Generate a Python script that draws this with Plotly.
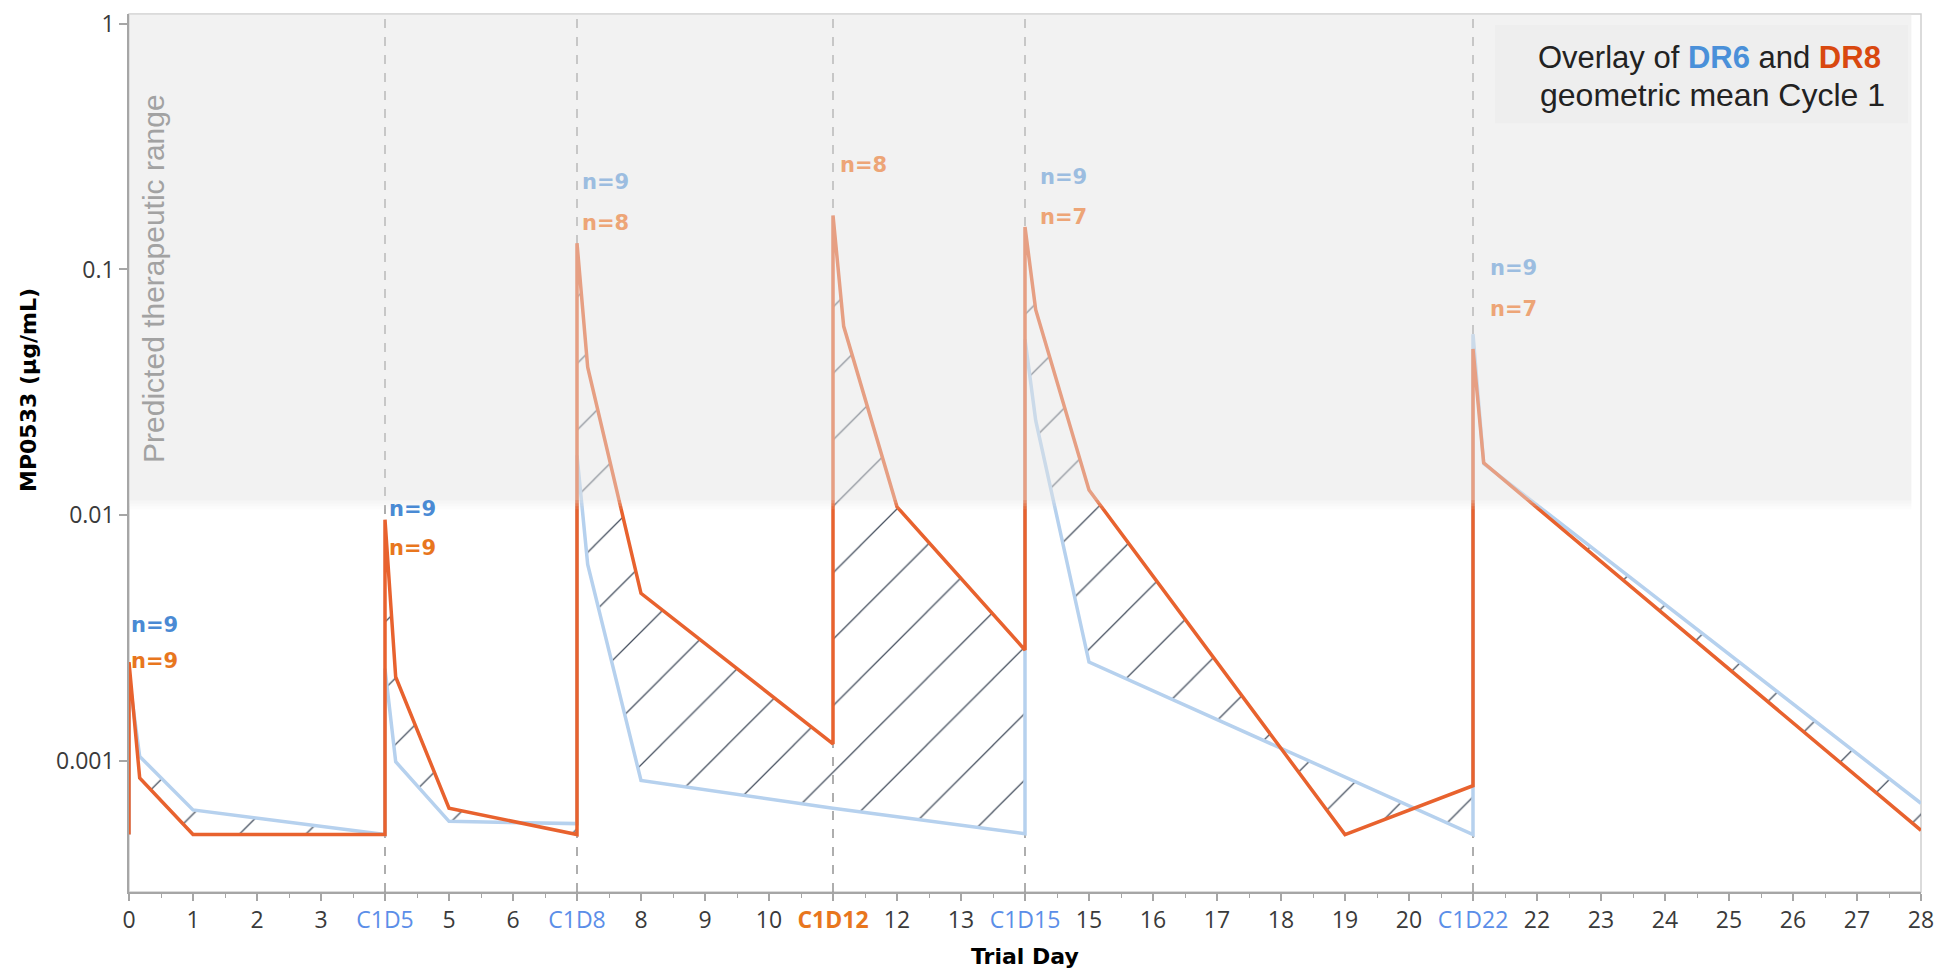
import math
import plotly.graph_objects as go

# ---------------- data ----------------
DR6_DAY = [0, 0, 0.167, 1, 4, 4, 4.167, 5, 7, 7, 7.167, 8, 11, 14, 14, 14.167, 15, 21, 21, 21.167, 28]
DR6_CONC = [0.0005, 0.0022, 0.00104, 0.00063, 0.0005, 0.00237, 0.00099, 0.000566, 0.000554,
            0.0175, 0.0063, 0.00083, 0.00064, 0.000504, 0.052, 0.0243, 0.00252, 0.0005,
            0.0545, 0.0162, 0.00067]

DR8_DAY = [0, 0, 0.167, 1, 4, 4, 4.167, 5, 7, 7, 7.167, 8, 11, 11, 11.167, 12, 14, 14, 14.167,
           15, 19, 21, 21, 21.167, 28]
DR8_CONC = [0.0005, 0.00252, 0.00085, 0.0005, 0.0005, 0.00957, 0.00219, 0.00064, 0.0005,
            0.128, 0.040, 0.0048, 0.00117, 0.166, 0.0587, 0.0108, 0.00282, 0.149, 0.0686,
            0.01265, 0.0005, 0.00079, 0.0475, 0.0163, 0.00052]

DOSE_DAYS = [4, 7, 11, 14, 21]
THERAPEUTIC_MIN = 0.011

N_LABEL_DAY = [0, 4, 7, 11, 14, 21]
DR6_N = ["n=9", "n=9", "n=9", None, "n=9", "n=9"]
DR8_N = ["n=9", "n=9", "n=8", "n=8", "n=7", "n=7"]

X_TICK_VALS = list(range(0, 29))
X_TICK_LABELS = ["0", "1", "2", "3", "C1D5", "5", "6", "C1D8", "8", "9", "10", "C1D12", "12",
                 "13", "C1D15", "15", "16", "17", "18", "19", "20", "C1D22", "22", "23", "24",
                 "25", "26", "27", "28"]
Y_TICK_VALS = [0.001, 0.01, 0.1, 1]
Y_TICK_LABELS = ["0.001", "0.01", "0.1", "1"]

# ---------------- styles / layout constants ----------------
ORANGE = "#e8622e"
BLUE_LINE = "#b6d1ee"
BLUE_TXT = "#4a8ad4"
ORANGE_TXT = "#e8761e"
BLUE_TXT_FADED = "#9cbde0"
ORANGE_TXT_FADED = "#eda577"
TICK_BLUE = "#5b8ee8"
TICK_ORANGE = "#e8761e"
AXIS_GREY = "#a6a6a6"

Y_RANGE = [-3.535, 0.0404]
X_RANGE = [0, 28]

# label placement (left edge in days, centre in log10 units)
LBL_DX = -0.06
LBL_DY = 0.015
DR6_LABEL_POS = [(0.067, -2.463), (4.086, -1.992), (7.11, -0.659), None, (14.26, -0.638), (21.29, -1.009)]
DR8_LABEL_POS = [(0.067, -2.611), (4.086, -2.150), (7.11, -0.827), (11.136, -0.591), (14.26, -0.800), (21.29, -1.177)]

fig = go.Figure()

fig.add_trace(go.Scatter(
    x=DR6_DAY, y=DR6_CONC, mode="lines", name="DR6",
    line=dict(color=BLUE_LINE, width=3.5), showlegend=False, hoverinfo="skip"))

fig.add_trace(go.Scatter(
    x=DR8_DAY, y=DR8_CONC, mode="lines", name="DR8",
    line=dict(color=ORANGE, width=3.5), showlegend=False, hoverinfo="skip",
    fill="tonexty", fillcolor="rgba(0,0,0,0)",
    fillpattern=dict(shape="/", size=47, solidity=0.027, fgcolor="#46505f",
                     bgcolor="rgba(0,0,0,0)", fgopacity=1)))

shapes = []
# frame
shapes.append(dict(type="rect", xref="paper", yref="paper", x0=0, x1=1, y0=0, y1=1,
                   line=dict(color="#cfcfcf", width=1.5), fillcolor="rgba(0,0,0,0)", layer="below"))
# dose day dashed lines
for d in DOSE_DAYS:
    shapes.append(dict(type="line", xref="x", yref="paper", x0=d, x1=d, y0=0, y1=1,
                       line=dict(color="#949494", width=1.5, dash="dash"), layer="below"))

# therapeutic band (drawn above the data so it veils it), soft lower edge
L = math.log10(THERAPEUTIC_MIN)
BAND_RGB = "228,228,228"
BAND_A = 0.47
BAND_X1 = 27.85
edges = [L + 0.018, L + 0.006, L - 0.006, L - 0.018]
alphas = [0.72, 0.45, 0.2]
shapes.append(dict(type="rect", xref="x", yref="y", x0=0, x1=BAND_X1,
                   y0=10 ** edges[0], y1=10 ** Y_RANGE[1],
                   line=dict(width=0), fillcolor=f"rgba({BAND_RGB},{BAND_A})", layer="above"))
for i, a in enumerate(alphas):
    shapes.append(dict(type="rect", xref="x", yref="y", x0=0, x1=BAND_X1,
                       y0=10 ** edges[i + 1], y1=10 ** edges[i],
                       line=dict(width=0), fillcolor=f"rgba({BAND_RGB},{BAND_A * a:.3f})",
                       layer="above"))
# legend box
shapes.append(dict(type="rect", xref="paper", yref="paper", x0=0.7623, x1=0.9927, y0=0.8757, y1=0.9876,
                   line=dict(width=0), fillcolor="rgba(200,200,200,0.07)", layer="above"))

annotations = []
# n labels
for i, day in enumerate(N_LABEL_DAY):
    for lab, pos, strong, faded in ((DR6_N[i], DR6_LABEL_POS[i], BLUE_TXT, BLUE_TXT_FADED),
                                     (DR8_N[i], DR8_LABEL_POS[i], ORANGE_TXT, ORANGE_TXT_FADED)):
        if lab is None:
            continue
        col = faded if pos[1] > L else strong
        annotations.append(dict(x=pos[0] + LBL_DX, y=pos[1] + LBL_DY, xref="x", yref="y",
                                text=f"<b>{lab}</b>",
                                showarrow=False, xanchor="left", yanchor="middle",
                                font=dict(family="DejaVu Sans", size=21, color=col)))

annotations.append(dict(x=0.01395, y=0.6994, xref="paper", yref="paper",
                        text="Predicted therapeutic range", textangle=-90, showarrow=False,
                        xanchor="center", yanchor="middle",
                        font=dict(family="Liberation Sans", size=30, color="#a2a2a2")))

annotations.append(dict(x=0.979, y=0.9508, xref="paper", yref="paper",
                        text="Overlay of <b><span style='color:#4a90d9'>DR6</span></b> and "
                             "<b><span style='color:#d9480f'>DR8</span></b>",
                        showarrow=False, xanchor="right", yanchor="middle",
                        font=dict(family="Liberation Sans", size=31, color="#222222")))
annotations.append(dict(x=0.981, y=0.9079, xref="paper", yref="paper",
                        text="geometric mean Cycle 1",
                        showarrow=False, xanchor="right", yanchor="middle",
                        font=dict(family="Liberation Sans", size=32, color="#222222")))

annotations.append(dict(x=-0.0558, y=0.5718, xref="paper", yref="paper",
                        text="<b>MP0533 (µg/mL)</b>", textangle=-90, showarrow=False,
                        xanchor="center", yanchor="middle",
                        font=dict(family="DejaVu Sans", size=22, color="#000000")))
annotations.append(dict(x=0.5, y=-0.0734, xref="paper", yref="paper",
                        text="<b>Trial Day</b>", showarrow=False,
                        xanchor="center", yanchor="middle",
                        font=dict(family="DejaVu Sans", size=22, color="#000000")))


def fmt_tick(lbl):
    if lbl == "C1D12":
        return f"<b><span style='color:{TICK_ORANGE}'>{lbl}</span></b>"
    if lbl.startswith("C1D"):
        return f"<span style='color:{TICK_BLUE}'>{lbl}</span>"
    return lbl


fig.update_layout(
    width=1941, height=971,
    margin=dict(l=129, r=20, t=7, b=79),
    paper_bgcolor="white", plot_bgcolor="white",
    shapes=shapes, annotations=annotations,
    xaxis=dict(range=X_RANGE, tickmode="array", tickvals=X_TICK_VALS,
               ticktext=[fmt_tick(t) for t in X_TICK_LABELS],
               ticks="outside", ticklen=7, tickwidth=1.5, tickcolor=AXIS_GREY,
               minor=dict(dtick=0.5, ticks="outside", ticklen=4, tickwidth=1, tickcolor=AXIS_GREY),
               showline=True, linecolor=AXIS_GREY, linewidth=1.5,
               showgrid=False, zeroline=False,
               tickfont=dict(family="Open Sans", size=23, color="#3a3a3a")),
    yaxis=dict(type="log", range=Y_RANGE, tickmode="array", tickvals=Y_TICK_VALS,
               ticktext=Y_TICK_LABELS, ticks="outside", ticklen=8, tickwidth=1.5,
               tickcolor=AXIS_GREY, showline=True, linecolor=AXIS_GREY, linewidth=1.5,
               showgrid=False, zeroline=False,
               tickfont=dict(family="Open Sans", size=23, color="#3a3a3a")),
)

fig.write_html("out.html")
